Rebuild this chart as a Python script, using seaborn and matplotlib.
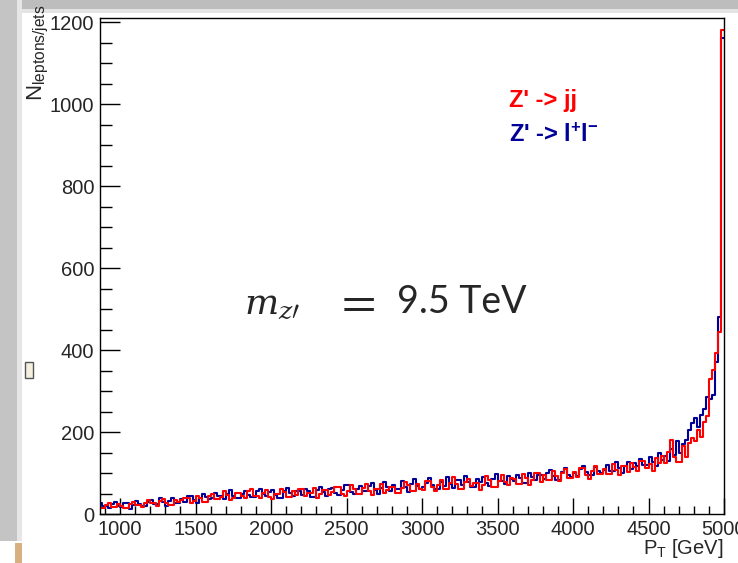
import numpy as np
import pandas as pd
import matplotlib
matplotlib.use("Agg")
import matplotlib.pyplot as plt
from matplotlib.patches import Rectangle
from matplotlib.ticker import MultipleLocator
import seaborn as sns

# ---- data (counts per 20 GeV bin, 860 .. 5000 GeV) ----
bin_lo = 860
bin_hi = 5000
bin_width = 20

counts_jj = [
    14, 14, 22, 27, 18, 18, 25,
    20, 15, 15, 24, 30, 22, 22, 17, 28, 33,
    26, 26, 19, 31, 36, 28, 22, 22, 35, 29,
    33, 40, 40, 27, 31, 45, 38, 30, 30, 44,
    48, 36, 36, 42, 55, 47, 34, 40, 51, 51,
    43, 38, 56, 60, 45, 45, 39, 52, 58, 41,
    36, 49, 49, 62, 54, 42, 42, 57, 47, 60,
    60, 44, 51, 51, 63, 39, 48, 58, 58, 46,
    53, 66, 66, 49, 43, 57, 70, 61, 50, 50,
    64, 72, 55, 47, 60, 60, 74, 52, 58, 67,
    67, 51, 51, 63, 77, 70, 56, 56, 72, 61,
    58, 80, 80, 65, 55, 71, 84, 62, 62, 76,
    90, 72, 61, 61, 78, 86, 68, 75, 75, 59,
    70, 92, 84, 66, 66, 80, 95, 77, 71, 88,
    85, 74, 74, 97, 88, 70, 82, 100, 100, 79,
    95, 84, 84, 105, 92, 80, 99, 110, 89, 89,
    102, 90, 112, 112, 96, 86, 104, 118, 97, 97,
    110, 98, 98, 122, 108, 94, 116, 116, 102, 125,
    115, 106, 130, 130, 112, 121, 104, 136, 125, 142,
    125, 152, 180, 140, 128, 128, 165, 138, 172, 185,
    178, 205, 188, 225, 240, 330, 351, 393, 445, 1180,
]

counts_ll = [
    26, 20, 20, 15, 24, 29, 19,
    17, 27, 27, 13, 21, 32, 25, 19, 19, 30,
    34, 24, 24, 38, 29, 20, 31, 40, 27, 27,
    37, 30, 45, 45, 34, 28, 39, 50, 41, 36,
    40, 52, 44, 44, 37, 49, 58, 45, 39, 39,
    50, 57, 47, 41, 41, 55, 62, 49, 44, 53,
    58, 46, 38, 38, 55, 64, 52, 44, 56, 56,
    47, 62, 55, 42, 42, 59, 66, 53, 45, 60,
    63, 52, 46, 58, 71, 71, 54, 48, 62, 68,
    55, 55, 69, 75, 58, 50, 63, 77, 66, 57,
    70, 62, 62, 80, 66, 54, 73, 85, 68, 60,
    66, 75, 88, 70, 61, 61, 79, 68, 90, 74,
    64, 82, 82, 71, 93, 77, 66, 66, 85, 79,
    90, 76, 68, 85, 98, 81, 81, 72, 92, 86,
    80, 94, 88, 76, 76, 101, 90, 84, 96, 96,
    86, 99, 108, 92, 84, 84, 103, 112, 95, 90,
    100, 92, 109, 118, 103, 96, 96, 114, 106, 100,
    108, 120, 104, 104, 126, 113, 100, 118, 128, 110,
    124, 116, 134, 120, 120, 140, 128, 118, 148, 132,
    142, 130, 158, 145, 178, 148, 170, 180, 205, 222,
    234, 212, 241, 256, 285, 280, 290, 371, 480, 1160,
]

x_ticks = [1000, 1500, 2000, 2500, 3000, 3500, 4000, 4500, 5000]
y_ticks = [0, 200, 400, 600, 800, 1000, 1200]
label_jj = "Z' -> jj"
label_ll = r"Z' -> $\mathbf{l^{+}l^{-}}$"

edges = np.arange(bin_lo, bin_hi + bin_width, bin_width)
centers = (edges[:-1] + edges[1:]) / 2
df = pd.DataFrame({
    "pt": np.concatenate([centers, centers]),
    "w": np.concatenate([counts_jj, counts_ll]).astype(float),
    "proc": ["jj"] * len(centers) + ["ll"] * len(centers),
})

sns.set_style("white")
plt.rcParams["font.family"] = ["Liberation Sans", "DejaVu Sans"]
plt.rcParams["mathtext.fontset"] = "custom"
plt.rcParams["mathtext.rm"] = "Liberation Sans"
plt.rcParams["mathtext.it"] = "Liberation Sans:italic"
plt.rcParams["mathtext.bf"] = "Liberation Sans:bold"

W, H = 738, 563
fig = plt.figure(figsize=(W / 100, H / 100), dpi=100)
fig.patch.set_facecolor("white")

# screenshot frame decorations
fig.add_artist(Rectangle((0, 1 - 9 / H), 1, 9 / H, transform=fig.transFigure,
                         color="#bdbdbd", lw=0, zorder=-5))
fig.add_artist(Rectangle((0, 1 - 13 / H), 1, 4 / H, transform=fig.transFigure,
                         color="#e4e4e4", lw=0, zorder=-5))
fig.add_artist(Rectangle((0, 22 / H), 17 / W, 1, transform=fig.transFigure,
                         color="#c4c4c4", lw=0, zorder=-5))
fig.add_artist(Rectangle((17 / W, 22 / H), 5 / W, 1, transform=fig.transFigure,
                         color="#e6e6e6", lw=0, zorder=-5))
fig.add_artist(Rectangle((15 / W, 0), 7 / W, 20 / H, transform=fig.transFigure,
                         color="#d8b080", lw=0, zorder=-5))
fig.add_artist(Rectangle((25 / W, 1 - 378 / H), 8 / W, 16 / H, transform=fig.transFigure,
                         facecolor="#f4f0e0", edgecolor="#555555", lw=1, zorder=-4))

ax = fig.add_axes([100 / W, 1 - 514 / H, 624 / W, 496 / H])
sns.histplot(data=df, x="pt", weights="w", hue="proc",
             binwidth=bin_width, binrange=(bin_lo, bin_hi),
             element="step", fill=False, palette={"jj": "#ff0000", "ll": "#000099"},
             linewidth=1.5, legend=False, ax=ax, hue_order=["jj", "ll"])

ax.set_xlim(867, 5000)
ax.set_ylim(0, 1210)
ax.set_xticks(x_ticks)
ax.set_yticks(y_ticks)
ax.set_xticklabels([str(t) for t in x_ticks])
ax.set_yticklabels([str(t) for t in y_ticks])
ax.xaxis.set_minor_locator(MultipleLocator(100))
ax.yaxis.set_minor_locator(MultipleLocator(50))
ax.tick_params(axis="x", which="major", direction="in", length=11.5, width=1,
               labelsize=14.5, pad=4, color="black")
ax.tick_params(axis="x", which="minor", direction="in", length=5.5, width=1, color="black")
ax.tick_params(axis="y", which="major", direction="in", length=14.4, width=1,
               labelsize=14.5, pad=4, color="black")
ax.tick_params(axis="y", which="minor", direction="in", length=8.5, width=1, color="black")
ax.tick_params(bottom=True, left=True, which="both")
ax.set_xlabel("")
ax.set_ylabel("")
for s in ax.spines.values():
    s.set_visible(True)
    s.set_color("black")
    s.set_linewidth(1)

fig.text(38 / W, 1 - 4 / H, r"$\mathregular{N_{leptons/jets}}$", rotation=90,
         ha="center", va="top", fontsize=16)
fig.text(723 / W, 1 - 548 / H, r"$\mathregular{P_T}$ [GeV]", ha="right", va="center",
         fontsize=14.5)

fig.text(509 / W, 1 - 101 / H, label_jj, color="#ff0000", fontsize=17,
         fontweight="bold", ha="left", va="center")
fig.text(509 / W, 1 - 135 / H, label_ll, color="#000099", fontsize=17,
         fontweight="bold", ha="left", va="center")

# m_{z'} = 9.5 TeV annotation
fig.text(244 / W, 1 - 304 / H, r"$m_{z\prime}$", fontsize=26,
         math_fontfamily="dejavuserif", ha="left", va="center")
fig.text(334 / W, 1 - 302 / H, r"$=$", fontsize=36,
         math_fontfamily="stix", ha="left", va="center")
fig.text(397 / W, 1 - 302 / H, "9.5 TeV", fontsize=27, family="Lato",
         ha="left", va="center")

fig.savefig("out.png", dpi=100)
